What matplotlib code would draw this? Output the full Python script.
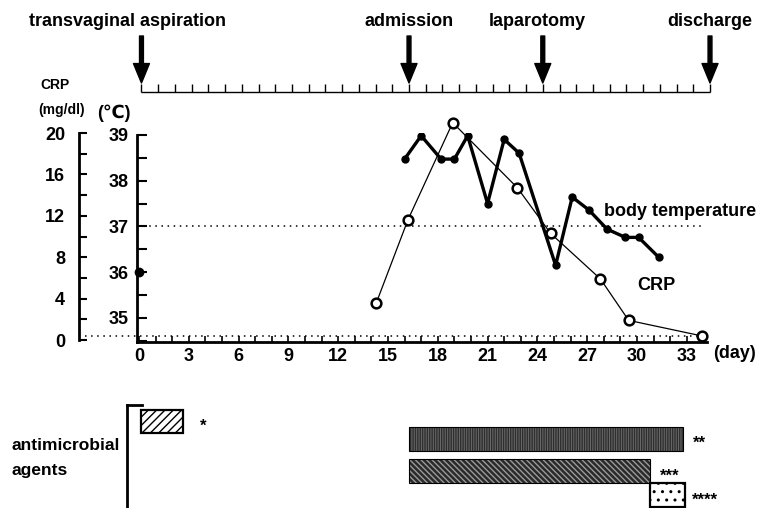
import matplotlib
matplotlib.use('Agg')
import matplotlib.pyplot as plt
from matplotlib.ticker import MultipleLocator

plt.rcParams['font.family'] = ['Liberation Sans', 'DejaVu Sans']
plt.rcParams['font.size'] = 12
plt.rcParams['font.weight'] = 'bold'

# body temperature (filled dots)
temp_day0 = 0
temp_val0 = 36.0
temp_days = [16, 17, 18.2, 19, 19.8, 21, 22, 22.9, 25.1, 26.1, 27.1, 28.2, 29.3, 30.1, 31.3]
temp_vals = [38.47, 38.98, 38.47, 38.47, 38.98, 37.5, 38.9, 38.6, 36.15, 37.64, 37.36, 36.94, 36.76, 36.76, 36.33]

# CRP (open circles)
crp_days = [14.3, 16.2, 18.9, 22.8, 24.8, 27.8, 29.5, 33.9]
crp_vals = [3.6, 11.6, 21.0, 14.7, 10.3, 5.9, 1.9, 0.4]
crp_normal = 0.4
temp_normal = 37.0

# events on the time line
events = ['transvaginal aspiration', 'admission', 'laparotomy', 'discharge']
event_days = [0, 16, 24, 34]
timeline_days = list(range(0, 35))

# antimicrobial agents
drug_start = [0, 16, 16, 30.4]
drug_end = [2.5, 32.4, 30.4, 32.5]
drug_marks = ['*', '**', '***', '****']

W, H = 759, 508
fig = plt.figure(figsize=(W / 100, H / 100), dpi=100)

# ---- main chart ----
ax = fig.add_axes([137 / W, (H - 342) / H, (707 - 137) / W, (342 - 133) / H])
ax.set_xlim(-0.12, 34.22)
ax.set_ylim(34.475, 39.04)
for s in ['top', 'right']:
    ax.spines[s].set_visible(False)
ax.spines['left'].set_linewidth(2)
ax.spines['bottom'].set_linewidth(2)
ax.spines['left'].set_bounds(34.475, 39.0)
ax.set_yticks([35, 36, 37, 38, 39])
ax.yaxis.set_minor_locator(MultipleLocator(0.5))
ax.xaxis.set_major_locator(MultipleLocator(3))
ax.xaxis.set_minor_locator(MultipleLocator(1))
ax.tick_params(axis='y', which='both', direction='in', length=7, width=1.5, pad=6, labelsize=13)
ax.tick_params(axis='x', which='both', direction='in', length=4, width=1.2, pad=4, labelsize=13)
for lab in ax.get_yticklabels():
    lab.set_va('center_baseline')

ax.axhline(temp_normal, xmax=0.99, color='black', linestyle=(0, (1, 3)), linewidth=1.1)
ax.plot(temp_days, temp_vals, color='black', linewidth=2.4, marker='o', markersize=5, zorder=4)
ax.plot([temp_day0], [temp_val0], color='black', marker='o', markersize=6, linestyle='none',
        clip_on=False, zorder=5)

ax2 = ax.twinx()
ax2.set_ylim(-0.19, 20.0)
for s in ['top', 'right', 'bottom']:
    ax2.spines[s].set_visible(False)
ax2.spines['left'].set_visible(True)
ax2.spines['left'].set_position(('outward', 58 * 0.72))
ax2.spines['left'].set_linewidth(2)
ax2.spines['left'].set_bounds(0, 20)
ax2.yaxis.set_ticks_position('left')
ax2.yaxis.set_label_position('left')
ax2.set_yticks([0, 4, 8, 12, 16, 20])
ax2.yaxis.set_minor_locator(MultipleLocator(2))
ax2.tick_params(axis='y', which='both', direction='in', length=6, width=1.5, pad=10, labelsize=13)

ax2.plot([-3.25, 34.1], [crp_normal, crp_normal], color='black', linestyle=(0, (1, 3)),
         linewidth=1.1, clip_on=False)
ax2.plot(crp_days, crp_vals, color='black', linewidth=0.9, marker='o', markersize=7,
         markerfacecolor='white', markeredgewidth=1.8, clip_on=False, zorder=4)

ax.text(28.0, 37.33, 'body temperature', fontsize=13, ha='left', va='center')
ax.text(30.0, 35.7, 'CRP', fontsize=13, ha='left', va='center')
fig.text(713 / W, 1 - 353 / H, '(day)', fontsize=13, ha='left', va='center')
fig.text(40 / W, 1 - 85 / H, 'CRP', fontsize=10, ha='left', va='center')
fig.text(38 / W, 1 - 110 / H, '(mg/dl)', fontsize=10, ha='left', va='center')
fig.text(97 / W, 1 - 113 / H, '(\u2103)', fontsize=13, ha='left', va='center')

# ---- time line with events ----
axt = fig.add_axes([0, (H - 100) / H, 1, 100 / H])
axt.set_xlim(-8.46, 36.93)
axt.set_ylim(100, 0)
axt.axis('off')
axt.hlines(92, timeline_days[0], timeline_days[-1], color='black', linewidth=1)
axt.vlines(timeline_days, 84, 92, color='black', linewidth=1)
label_shift = [-0.85, 0, -0.3, 0]
for name, d, sh in zip(events, event_days, label_shift):
    axt.annotate('', xy=(d, 83), xytext=(d, 36),
                 arrowprops=dict(width=2.8, headwidth=11.5, headlength=14, color='black', shrink=0),
                 annotation_clip=False)
    axt.text(d + sh, 22, name, fontsize=13, ha='center', va='center')

# ---- antimicrobial agents ----
axb = fig.add_axes([127 / W, 0, (W - 127) / W, (H - 405) / H])
axb.set_xlim(-0.867, 36.93)
axb.set_ylim(508, 405)
axb.set_xticks([])
axb.set_yticks([])
for s in ['right', 'bottom']:
    axb.spines[s].set_visible(False)
axb.spines['left'].set_linewidth(2)
axb.spines['top'].set_linewidth(2)
axb.spines['top'].set_bounds(-0.867, 0.03)
axb.patch.set_alpha(0)

lane_y = [421.5, 438.7, 471, 495]
lane_h = [23, 24, 24, 24]
faces = ['white', '#6a6a6a', '#2a2a2a', 'white']
hatch_cols = ['black', '#2e2e2e', '#9a9a9a', 'black']
hatches = ['////', '|||||||', '\\\\\\\\\\\\', '..']
mark_gap = [1.0, 0.55, 0.6, 0.4]
for i in range(len(drug_start)):
    w = drug_end[i] - drug_start[i]
    axb.barh(lane_y[i], w, left=drug_start[i], height=lane_h[i], color=faces[i],
             edgecolor=hatch_cols[i], hatch=hatches[i], linewidth=0)
    axb.barh(lane_y[i], w, left=drug_start[i], height=lane_h[i], fill=False,
             edgecolor='black', linewidth=1.6 if i in (0, 3) else 0.8)
    axb.text(drug_end[i] + mark_gap[i], lane_y[i] + 5, drug_marks[i], fontsize=12,
             ha='left', va='center')

fig.text(12 / W, 1 - 445 / H, 'antimicrobial', fontsize=12.5, ha='left', va='center')
fig.text(12 / W, 1 - 470 / H, 'agents', fontsize=12.5, ha='left', va='center')

fig.savefig('out.png', dpi=100)
